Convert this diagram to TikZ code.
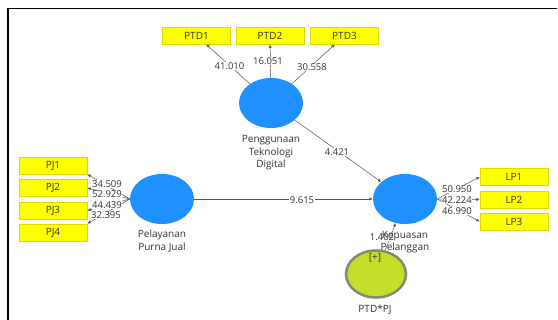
\documentclass[tikz,border=0pt]{standalone}
\usepackage{fontspec}
\setmainfont{Open Sans}
\usetikzlibrary{shapes.geometric,arrows.meta}
\definecolor{lvblue}{HTML}{1E90FF}
\definecolor{indyellow}{HTML}{FFFF00}
\definecolor{indborder}{HTML}{DADA00}
\definecolor{modfill}{HTML}{C6DE2A}
\definecolor{modborder}{HTML}{7E8C74}
\definecolor{edgegray}{HTML}{555555}
\definecolor{txt}{HTML}{333333}
\tikzset{
  lv/.style={ellipse, fill=lvblue, minimum width=64pt, minimum height=50pt, inner sep=0pt},
  ind/.style={rectangle, fill=indyellow, draw=indborder, line width=0.6pt, minimum width=68pt, minimum height=17pt, inner sep=0pt, font=\fontsize{10}{10}\selectfont, text=txt},
  modlv/.style={ellipse, fill=modfill, draw=modborder, line width=2.5pt, minimum width=60pt, minimum height=47pt, inner sep=0pt},
  lbl/.style={font=\fontsize{10}{12.5}\selectfont, text=txt, align=center, inner sep=0.5pt},
  coef/.style={font=\fontsize{9.5}{10}\selectfont, text=txt, fill=white, inner sep=0.4pt},
  edge/.style={draw=edgegray, line width=0.5pt, -{Latex[length=3.5pt,width=3pt]}},
}
\begin{document}
\begin{tikzpicture}[x=1pt,y=-1pt]
\useasboundingbox (0,0) rectangle (558,320);
% frame
\draw[line width=1.8pt] (8,320) -- (8,8.5) -- (557,8.5);

% indicators
\node[ind] (ptd1) at (196.5,35.5) {PTD1};
\node[ind] (ptd2) at (270,35.5) {PTD2};
\node[ind] (ptd3) at (344.5,35.5) {PTD3};
\node[ind] (pj1) at (53,165.5) {PJ1};
\node[ind] (pj2) at (53,188) {PJ2};
\node[ind] (pj3) at (53,210.5) {PJ3};
\node[ind] (pj4) at (53,232.5) {PJ4};
\node[ind] (lp1) at (514,177) {LP1};
\node[ind] (lp2) at (514,199.5) {LP2};
\node[ind] (lp3) at (514,221.5) {LP3};

% latent variables
\node[lv] (ptd) at (271,103) {};
\node[lv] (pj) at (162,199) {};
\node[lv] (lp) at (405,199) {};
\node[modlv] (mod) at (376,274) {};
\node[lbl] (modplus) at (375,258) {[+]};

% outer model arrows
\draw[edge] (ptd) -- (ptd1);
\draw[edge] (ptd) -- (ptd2);
\draw[edge] (ptd) -- (ptd3);
\draw[edge] (pj.west) -- (pj1.south east);
\draw[edge] (pj.west) -- (pj2.east);
\draw[edge] (pj.west) -- (pj3.east);
\draw[edge] (pj.west) -- (pj4.north east);
\draw[edge] (lp.east) -- (lp1.west);
\draw[edge] (lp.east) -- (lp2.west);
\draw[edge] (lp.east) -- (lp3.west);

% inner model arrows
\draw[edge] (ptd) -- (lp);
\draw[edge] (pj) -- (lp);
\draw[edge] (mod) -- (lp);

% coefficients
\node[coef] (c1) at (229.5,66) {41.010};
\node[coef] (c2) at (268,61) {16.051};
\node[coef] (c3) at (312,67) {30.558};
\node[coef] (c4) at (337,152) {4.421};
\node[coef] (c5) at (107,184) {34.509};
\node[coef] (c6) at (107,194.5) {52.929};
\node[coef] (c7) at (107,205) {44.439};
\node[coef] (c8) at (106,215.5) {32.395};
\node[coef] (c9) at (302,200) {9.615};
\node[coef] (c10) at (457,189) {50.950};
\node[coef] (c11) at (457,200) {42.224};
\node[coef] (c12) at (457,211) {46.990};
\node[coef] (c13) at (382,237) {1.402};

% names
\node[lbl] (nptd) at (271,153) {Penggunaan\\Teknologi\\Digital};
\node[lbl] (npj) at (162,241) {Pelayanan\\Purna Jual};
\node[lbl] (nlp) at (405,242) {Kepuasan\\Pelanggan};
\node[lbl] (nmod) at (375,310) {PTD*PJ};
\end{tikzpicture}
\end{document}
